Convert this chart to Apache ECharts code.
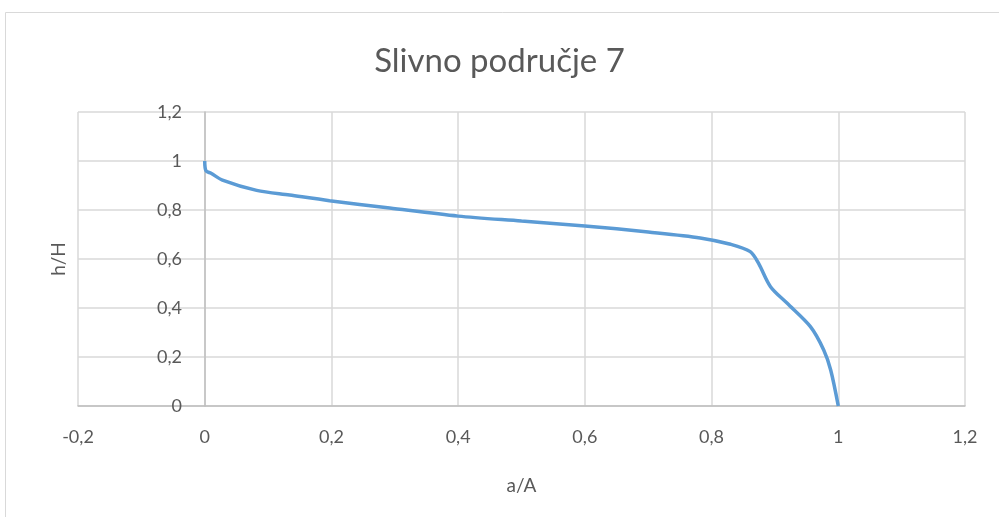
<!DOCTYPE html>
<html>
<head>
<meta charset="utf-8">
<script src="https://cdn.jsdelivr.net/npm/echarts@6/dist/echarts.min.js"></script>
<style>
  html, body { margin: 0; padding: 0; background: #fff; }
  #chart { width: 999px; height: 517px; }
</style>
</head>
<body>
<div id="chart"></div>
<script>
// a/A values (x) and h/H values (y)
const aA = [0, 0.002, 0.01, 0.028, 0.082, 0.134, 0.197, 0.292, 0.4, 0.5, 0.6, 0.7, 0.782, 0.83, 0.861, 0.874, 0.893, 0.919, 0.956, 0.977, 0.988, 1.0]
const hH = [1.0, 0.96, 0.95, 0.922, 0.88, 0.861, 0.838, 0.808, 0.775, 0.755, 0.735, 0.71, 0.686, 0.66, 0.63, 0.583, 0.487, 0.42, 0.324, 0.229, 0.147, 0]

const titleText = 'Slivno područje 7'
const xName = 'a/A'
const yName = 'h/H'

const fmt = v => String(+v.toFixed(1)).replace('.', ',')

const chart = echarts.init(document.getElementById('chart'))

chart.setOption({
  backgroundColor: '#fff',
  animation: false,
  textStyle: { fontFamily: 'Lato' },
  graphic: [{
    type: 'rect',
    shape: { x: 5.5, y: 12.5, width: 1000, height: 520 },
    style: { fill: 'none', stroke: '#d9d9d9', lineWidth: 1 }
  }],
  title: {
    text: titleText,
    left: 'center',
    top: 40,
    textStyle: { fontFamily: 'Lato', fontWeight: 'normal', fontSize: 33, color: '#595959' }
  },
  grid: { left: 78, right: 34, top: 112, bottom: 111, containLabel: false, outerBoundsMode: 'none' },
  xAxis: {
    type: 'value',
    min: -0.2,
    max: 1.2,
    interval: 0.2,
    name: xName,
    nameLocation: 'middle',
    nameGap: 70,
    nameTextStyle: { fontSize: 19, color: '#595959' },
    axisLine: { onZero: false, lineStyle: { color: '#bfbfbf', width: 1.5 } },
    axisTick: { show: false },
    axisLabel: { formatter: fmt, fontSize: 18, color: '#595959', margin: 22 },
    splitLine: { lineStyle: { color: '#d9d9d9', width: 1.5 } }
  },
  yAxis: {
    type: 'value',
    min: 0,
    max: 1.2,
    interval: 0.2,
    name: yName,
    nameLocation: 'middle',
    nameGap: 10,
    nameRotate: 90,
    nameTextStyle: { fontSize: 19, color: '#595959' },
    axisLine: { show: true, onZero: true, lineStyle: { color: '#bfbfbf', width: 1.5 } },
    axisTick: { show: false },
    axisLabel: { formatter: fmt, fontSize: 18, color: '#595959', margin: -104 },
    splitLine: { lineStyle: { color: '#d9d9d9', width: 1.5 } }
  },
  series: [{
    type: 'line',
    data: aA.map((x, i) => [x, hH[i]]),
    smooth: 0.3,
    showSymbol: false,
    lineStyle: { color: '#5b9bd5', width: 3.5 },
    itemStyle: { color: '#5b9bd5' }
  }]
})
</script>
</body>
</html>
